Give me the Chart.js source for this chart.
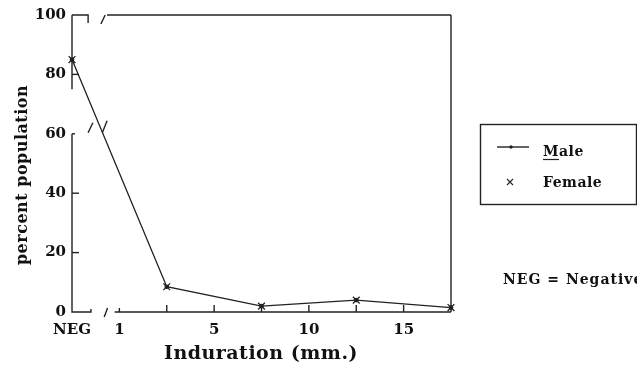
<!DOCTYPE html>
<html>
<head>
<meta charset="utf-8">
<script src="https://cdn.jsdelivr.net/npm/chart.js@4/dist/chart.umd.min.js"></script>
<style>
html,body{margin:0;padding:0;background:#fff;}
canvas{display:block;}
</style>
</head>
<body>
<canvas id="c" width="637" height="367"></canvas>
<script>
// ---- data ----
const categories = ['NEG', '1', '', '5', '', '10', '', '15', ''];
const maleValues   = [85, null, 8.5, null, 2, null, 4, null, 1.5];
const femaleValues = [85, null, 8.5, null, 2, null, 4, null, 1.5];
const yTicks = [0, 20, 40, 60, 80, 100];
const seriesNames = ['Male', 'Female'];
const xTitle = 'Induration (mm.)';
const yTitle = 'percent population';
const note = 'NEG = Negative';

const INK = '#111111';
const LINE = '#222222';
const FONT = '"DejaVu Serif", serif';

const framePlugin = {
  id: 'frame',
  beforeDatasetsDraw(chart) {
    const {ctx, scales: {x, y}} = chart;
    const L = x.getPixelForValue(0), R = x.getPixelForValue(8);
    const T = y.getPixelForValue(100), B = y.getPixelForValue(0);
    const X = v => L + (R - L) * v / 8;
    const line = (pts) => {
      ctx.beginPath();
      ctx.moveTo(pts[0][0], pts[0][1]);
      for (let i = 1; i < pts.length; i++) ctx.lineTo(pts[i][0], pts[i][1]);
      ctx.stroke();
    };
    ctx.save();
    ctx.strokeStyle = LINE;
    ctx.lineWidth = 1.4;
    // left axis, upper piece
    line([[L, T], [L, y.getPixelForValue(75)]]);
    // top hook + break + top line
    line([[L, T], [X(0.34), T], [X(0.34), T + 8]]);
    line([[X(0.61), T + 9], [X(0.7), T]]);
    line([[X(0.74), T], [R, T]]);
    // right border
    line([[R, T], [R, B]]);
    // lower left axis
    line([[L, y.getPixelForValue(60)], [L, B], [X(0.4), B], [X(0.4), B - 3]]);
    // bottom break + bottom line
    line([[X(0.68), B + 5], [X(0.75), B - 4]]);
    line([[X(0.9), B], [R, B]]);
    // middle break slashes near 60
    const y60 = y.getPixelForValue(60);
    line([[X(0.34), y60 - 1], [X(0.44), y60 - 11]]);
    line([[X(0.64), y60 - 1], [X(0.74), y60 - 13]]);
    // y ticks (inward)
    [80, 40, 20].forEach(v => {
      const py = y.getPixelForValue(v);
      line([[L, py], [L + 7, py]]);
    });
    line([[L, y60], [L + 3, y60]]);
    // x ticks (inward)
    for (let i = 1; i < 8; i++) {
      const px = X(i);
      line([[px, B], [px, B - (i === 1 ? 4 : 7)]]);
    }
    ctx.restore();
  },
  afterDraw(chart) {
    const {ctx} = chart;
    ctx.save();
    ctx.fillStyle = INK;
    ctx.strokeStyle = LINE;
    // x title
    ctx.font = 'bold 19px ' + FONT;
    ctx.letterSpacing = '0.5px';
    ctx.textAlign = 'center';
    ctx.textBaseline = 'alphabetic';
    ctx.fillText(xTitle, 261, 359);
    // y title
    ctx.save();
    ctx.translate(23, 175);
    ctx.rotate(-Math.PI / 2);
    ctx.font = 'bold 16px ' + FONT;
    ctx.textBaseline = 'middle';
    ctx.fillText(yTitle, 0, 0);
    ctx.restore();
    // legend box
    ctx.lineWidth = 1.4;
    ctx.strokeRect(480.5, 124.5, 156, 80);
    ctx.beginPath();
    ctx.moveTo(497, 147); ctx.lineTo(529, 147); ctx.stroke();
    ctx.fillStyle = LINE;
    ctx.beginPath(); ctx.arc(511, 147, 1.7, 0, Math.PI * 2); ctx.fill();
    // cross
    ctx.lineWidth = 1.1;
    ctx.beginPath();
    ctx.moveTo(507, 179); ctx.lineTo(513, 185);
    ctx.moveTo(513, 179); ctx.lineTo(507, 185);
    ctx.stroke();
    ctx.fillStyle = INK;
    ctx.font = 'bold 14px ' + FONT;
    ctx.letterSpacing = '0.5px';
    ctx.textAlign = 'left';
    ctx.textBaseline = 'middle';
    ctx.fillText(seriesNames[0], 543, 152);
    const mw = ctx.measureText('M').width;
    ctx.lineWidth = 1.2;
    ctx.beginPath(); ctx.moveTo(543, 159.5); ctx.lineTo(543 + mw, 159.5); ctx.stroke();
    ctx.fillText(seriesNames[1], 543, 183);
    // note
    ctx.letterSpacing = '1px';
    ctx.fillText(note, 503, 280);
    ctx.restore();
  }
};

new Chart(document.getElementById('c'), {
  type: 'line',
  data: {
    labels: categories,
    datasets: [
      {
        label: seriesNames[0],
        data: maleValues,
        spanGaps: true,
        borderColor: LINE,
        backgroundColor: LINE,
        borderWidth: 1.3,
        pointStyle: 'circle',
        pointRadius: 1.7,
        tension: 0
      },
      {
        label: seriesNames[1],
        data: femaleValues,
        spanGaps: true,
        showLine: false,
        borderColor: LINE,
        backgroundColor: LINE,
        borderWidth: 1.3,
        pointStyle: 'crossRot',
        pointRadius: 4.8
      }
    ]
  },
  options: {
    responsive: false,
    animation: false,
    devicePixelRatio: 1,
    layout: {padding: {left: 0, top: 15, right: 186, bottom: 0}},
    plugins: {legend: {display: false}, tooltip: {enabled: false}},
    scales: {
      x: {
        type: 'category',
        offset: false,
        grid: {display: false, drawTicks: false},
        border: {display: false},
        ticks: {
          autoSkip: false, maxRotation: 0, minRotation: 0,
          padding: 9,
          color: INK,
          font: {family: FONT, size: 15, weight: 'bold'}
        },
        afterFit(s) { s.height = 55; }
      },
      y: {
        min: 0, max: 100,
        grid: {display: false, drawTicks: false},
        border: {display: false},
        afterBuildTicks(s) { s.ticks = yTicks.map(v => ({value: v})); },
        ticks: {
          padding: 6,
          color: INK,
          font: {family: FONT, size: 15, weight: 'bold'}
        },
        afterFit(s) { s.width = 72; }
      }
    }
  },
  plugins: [framePlugin]
});
</script>
</body>
</html>
